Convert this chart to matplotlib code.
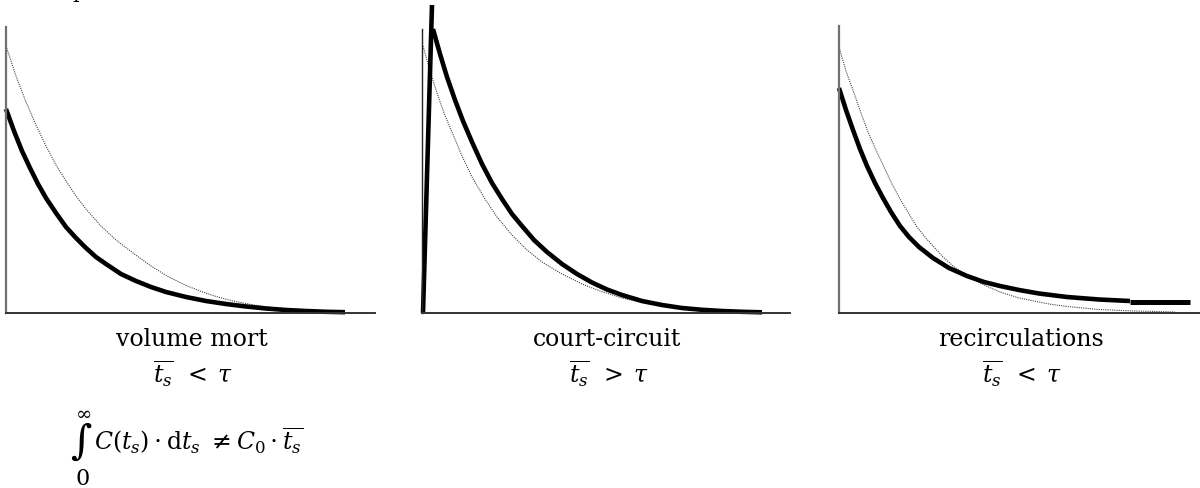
import matplotlib
matplotlib.use("Agg")
import matplotlib.pyplot as plt

plt.rcParams['font.family'] = ['DejaVu Serif']
plt.rcParams['mathtext.fontset'] = 'dejavuserif'

W, H = 1200, 489

# ---- data (time units along axis, concentration units above axis) ----
# Panel 1 : volume mort
t1_thick = [0, 8, 16, 24, 32, 40, 50, 60, 70, 80, 90, 100, 115, 130, 145, 160, 180, 200,
            220, 240, 260, 280, 300, 320, 339]
c1_thick = [204, 182, 162, 145, 129, 115, 100, 86, 75, 65, 56, 49, 39, 32, 26, 21, 16, 12,
            9, 6.5, 4.5, 3, 2, 1.2, 0.8]
t1_ideal = [0, 10, 20, 30, 40, 50, 60, 70, 80, 94, 110, 127, 145, 161, 180, 194, 210, 227,
            245, 261, 280, 300, 320, 339]
c1_ideal = [267, 237, 211, 188, 167, 148, 132, 117, 104, 88, 73, 60, 47, 37, 27.5, 22, 16.5, 12,
            8.5, 6, 4.2, 3, 2, 1.3]

# Panel 2 : court-circuit
t2_spike = [1, 10]
c2_spike = [0, 308]
t2_thick = [11, 18, 25, 33, 41, 50, 60, 70, 80, 90, 100, 112, 125, 140, 155, 170, 185, 200,
            220, 240, 260, 280, 300, 320, 340]
c2_thick = [284, 259, 236, 213, 192, 171, 149, 130, 114, 99, 87, 73, 61, 49, 39, 30.5, 23.5, 18,
            12, 8, 5, 3.2, 2, 1.2, 0.7]
t2_ideal = [1, 8, 15, 22, 30, 40, 50, 63, 75, 90, 105, 120, 140, 160, 178, 200, 220, 240,
            260, 280, 300, 320, 340]
c2_ideal = [267, 242, 220, 200, 181, 157, 136, 114, 96, 78, 63, 51, 39, 29, 22, 15, 10.5, 7,
            4.5, 3, 2, 1.2, 0.8]

# Panel 3 : recirculations
t3_thick = [0, 7, 14, 21, 28, 36, 44, 52, 61, 70, 80, 94, 110, 128, 145, 161, 180, 200,
            228, 260, 291]
c3_thick = [225, 203, 183, 164, 147, 130, 115, 101, 87, 76, 66, 55, 45, 37, 31, 27, 23, 19.5,
            16, 13.5, 12]
t3_tail = [291, 351]
c3_tail = [11, 11]
t3_ideal = [0, 7, 15, 22, 29, 37, 45, 53, 61, 70, 78, 86, 94, 104, 114, 130, 145, 161, 180,
            195, 210, 228, 260, 295, 336]
c3_ideal = [266, 242, 220, 200, 181, 163, 146, 129, 114, 99, 86, 76, 67, 56, 47, 36, 28, 21, 15,
            12, 9, 6.5, 3.5, 2, 1]

labels = ["volume mort", "court-circuit", "recirculations"]
relations = [r"$\overline{t_s}\ \,<\;\tau$", r"$\overline{t_s}\ \,>\;\tau$",
             r"$\overline{t_s}\ \,<\;\tau$"]

# axes geometry in pixels: (left, right, top, bottom)
geoms = [(6, 375, 28, 314), (422, 790, 30, 314), (839, 1200, 27, 314)]
yaxis_colors = ["#707070", "#222222", "#707070"]
yaxis_widths = [1.6, 1.0, 1.6]

fig = plt.figure(figsize=(W / 100, H / 100), dpi=100)

axes = []
for (l, r, t, b), yc, yw in zip(geoms, yaxis_colors, yaxis_widths):
    ax = fig.add_axes([l / W, (H - b) / H, (r - l) / W, (b - t) / H])
    ax.set_xlim(0, r - l)
    ax.set_ylim(0, b - t)
    for s in ("top", "right"):
        ax.spines[s].set_visible(False)
    ax.spines["left"].set_color(yc)
    ax.spines["left"].set_linewidth(yw)
    ax.spines["bottom"].set_color("#333333")
    ax.spines["bottom"].set_linewidth(1.4)
    ax.set_xticks([])
    ax.set_yticks([])
    ax.patch.set_alpha(0)
    axes.append(ax)

thick = dict(color="black", lw=3.3, solid_capstyle="butt", solid_joinstyle="round", clip_on=False)
dotted = dict(color="#444444", lw=0.8, linestyle=(0, (1, 1)), clip_on=False)

ax1, ax2, ax3 = axes
ax1.plot(t1_ideal, c1_ideal, **dotted)
ax1.plot(t1_thick, c1_thick, **thick)

ax2.plot(t2_ideal, c2_ideal, **dotted)
ax2.plot(t2_spike, c2_spike, **thick)
ax2.plot(t2_thick, c2_thick, **thick)

ax3.plot(t3_ideal, c3_ideal, **dotted)
ax3.plot(t3_thick, c3_thick, **thick)
ax3.plot(t3_tail, c3_tail, color="black", lw=3.6, solid_capstyle="butt", clip_on=False)

# labels under each panel
for (l, r, t, b), lab, rel in zip(geoms, labels, relations):
    cx = (l + r) / 2 / W
    fig.text(cx + 1 / W, 1 - 346 / H, lab, ha="center", va="baseline", fontsize=17)
    fig.text(cx + 3 / W, 1 - 383 / H, rel, ha="center", va="baseline", fontsize=17)

# integral relation
fig.text(81 / W, 1 - 442 / H, r"$\int$", ha="center", va="center", fontsize=21)
fig.text(83 / W, 1 - 413 / H, r"$\infty$", ha="center", va="center", fontsize=14)
fig.text(83 / W, 1 - 485 / H, "0", ha="center", va="baseline", fontsize=16)
fig.text(94 / W, 1 - 450 / H,
         r"$C\left(t_s\right)\cdot\mathrm{d}t_s\ \neq C_0\cdot\overline{t_s}$",
         ha="left", va="baseline", fontsize=17)

# partially visible glyph at top edge
fig.text(79 / W, 1 + 2 / H, "p", ha="center", va="baseline", fontsize=15)

fig.savefig("out.png", dpi=100, facecolor="white")
